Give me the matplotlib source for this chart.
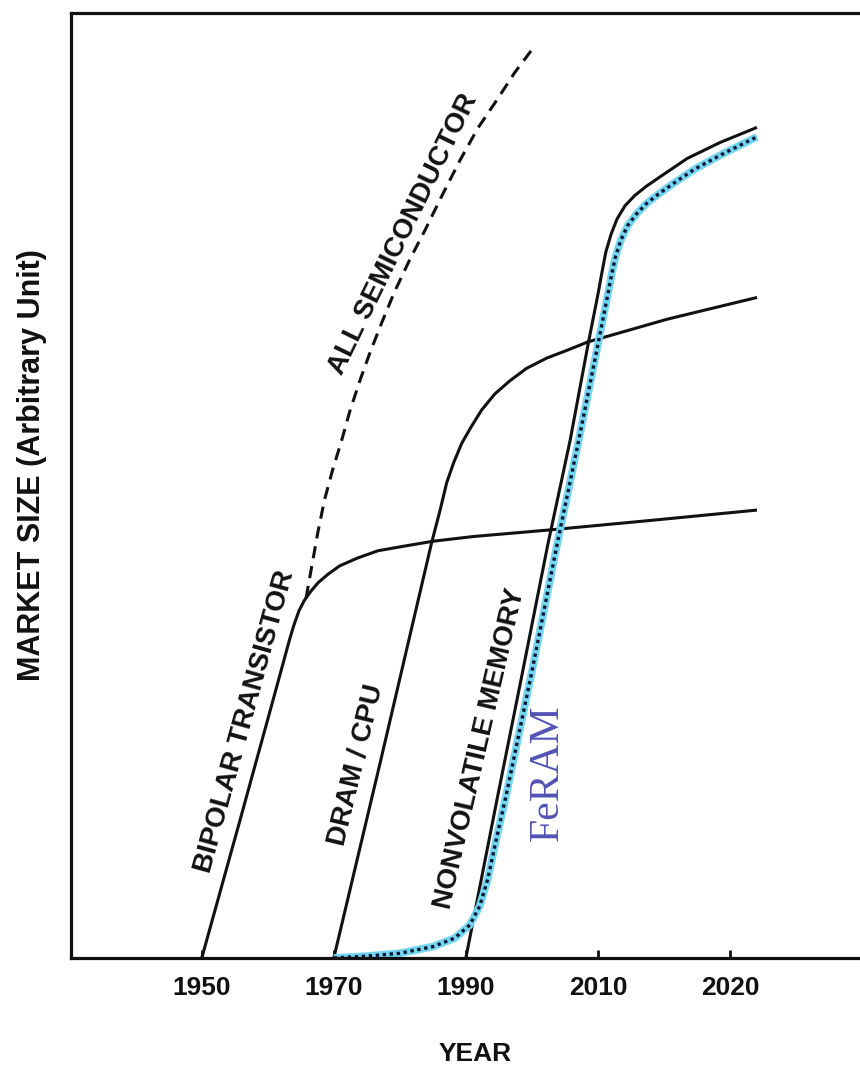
"""Market size vs year for semiconductor product generations (with the FeRAM curve)."""
import matplotlib

matplotlib.use("Agg")

import matplotlib.pyplot as plt

plt.rcParams["font.family"] = ["Liberation Sans", "DejaVu Sans"]

# --- values (year, market size in arbitrary units 0..1) ---
bipolar_year = [1950.0, 1955.8, 1960.8, 1963.3, 1963.9, 1964.7, 1965.5, 1966.4, 1967.6,
                1969.1, 1970.9, 1973.5, 1976.7, 1980.8, 1985.0, 1991.1, 2002.7, 2017.9,
                2034.1]
bipolar_size = [0.000, 0.146, 0.273, 0.337, 0.351, 0.367, 0.378, 0.387, 0.397,
                0.406, 0.415, 0.423, 0.431, 0.436, 0.441, 0.446, 0.453, 0.463,
                0.474]

dram_year = [1970.0, 1977.0, 1984.8, 1986.1, 1987.1, 1988.2, 1989.4, 1990.8, 1992.4,
             1994.4, 1996.7, 1999.2, 2002.3, 2005.3, 2008.5, 2020.5, 2034.1]
dram_size = [0.000, 0.206, 0.439, 0.474, 0.503, 0.525, 0.545, 0.562, 0.580,
             0.597, 0.611, 0.624, 0.635, 0.643, 0.652, 0.676, 0.699]

nvm_year = [1990.0, 1994.7, 1998.6, 2002.4, 2005.8, 2008.5, 2010.0, 2010.6, 2011.2,
            2012.0, 2012.9, 2014.1, 2015.6, 2017.4, 2019.7, 2023.5, 2028.5, 2034.1]
nvm_size = [0.000, 0.167, 0.303, 0.437, 0.548, 0.649, 0.702, 0.725, 0.747,
            0.766, 0.782, 0.796, 0.807, 0.817, 0.828, 0.846, 0.863, 0.879]

feram_year = [1970.0, 1975.0, 1980.0, 1985.0, 1988.3, 1990.6, 1992.1, 1993.3, 1994.5,
              1996.1, 2000.0, 2003.8, 2007.1, 2010.0, 2011.5, 2012.1, 2012.7, 2013.5,
              2014.5, 2015.8, 2017.3, 2019.1, 2021.5, 2024.7, 2029.2, 2034.1]
feram_size = [0.000, 0.002, 0.005, 0.012, 0.021, 0.035, 0.055, 0.083, 0.122,
              0.172, 0.303, 0.437, 0.548, 0.649, 0.702, 0.724, 0.743, 0.760,
              0.775, 0.787, 0.798, 0.808, 0.820, 0.835, 0.852, 0.869]

all_semi_year = [1965.8, 1966.7, 1967.6, 1968.6, 1969.8, 1971.2, 1972.4, 1973.9, 1975.5,
                 1977.3, 1979.2, 1981.5, 1983.8, 1986.4, 1989.1, 1991.8, 1994.7, 1997.4,
                 2000.2]
all_semi_size = [0.381, 0.416, 0.451, 0.485, 0.516, 0.548, 0.578, 0.610, 0.641,
                 0.673, 0.705, 0.739, 0.770, 0.807, 0.844, 0.878, 0.908, 0.937,
                 0.963]

# the scanned axis is not evenly labelled: the last tick sits where 2030 would be
tick_pos = [1950, 1970, 1990, 2010, 2030]
tick_labels = ["1950", "1970", "1990", "2010", "2020"]

INK = "#111111"

fig = plt.figure(figsize=(8.6, 10.68), dpi=100)
ax = fig.add_axes([0.0826, 0.1030, 0.9174, 0.8848])
ax.set_xlim(1930.2, 2049.7)
ax.set_ylim(0.0, 1.0)

lw = 2.2
ax.plot(bipolar_year, bipolar_size, color=INK, lw=lw, solid_capstyle="butt")
ax.plot(dram_year, dram_size, color=INK, lw=lw, solid_capstyle="butt")
ax.plot(nvm_year, nvm_size, color=INK, lw=lw, solid_capstyle="butt")
ax.plot(all_semi_year, all_semi_size, color=INK, lw=lw, linestyle=(0, (4.0, 2.6)))

# FeRAM: light-blue band with a dense black dotted line on top
ax.plot(feram_year, feram_size, color="#74d5f0", lw=5.5, solid_capstyle="butt")
ax.plot(feram_year, feram_size, color="#0b1630", lw=2.4, linestyle=(0, (1.0, 1.1)))

# curve labels written along the curves
label_kw = dict(color=INK, fontsize=20, fontweight="bold", ha="center", va="center",
                rotation_mode="anchor")
ax.text(1956.6, 0.250, "BIPOLAR TRANSISTOR", rotation=74.5, **label_kw)
ax.text(1973.4, 0.204, "DRAM / CPU", rotation=76.5, **label_kw)
ax.text(1992.2, 0.222, "NONVOLATILE MEMORY", rotation=77, **label_kw)
ax.text(1980.6, 0.766, "ALL SEMICONDUCTOR", rotation=64, **label_kw)
ax.text(2002.3, 0.196, "FeRAM", rotation=90, color="#5252b5", fontsize=30,
        family=["Liberation Serif", "DejaVu Serif"], ha="center", va="center")

# axes frame: open on the right, ticks pointing in
for side in ("left", "top", "bottom"):
    ax.spines[side].set_linewidth(2.3)
    ax.spines[side].set_color(INK)
ax.spines["right"].set_visible(False)

ax.set_xticks(tick_pos)
ax.set_xticklabels(tick_labels, fontsize=19, fontweight="bold", color=INK)
ax.tick_params(axis="x", direction="in", length=6, width=2, pad=13, color=INK)
ax.set_yticks([])

ax.set_xlabel("YEAR", fontsize=19, fontweight="bold", color=INK)
ax.xaxis.set_label_coords(0.512, -0.089)
ax.set_ylabel("MARKET SIZE (Arbitrary Unit)", fontsize=22, fontweight="bold", color=INK)
ax.yaxis.set_label_coords(-0.031, 0.522)

fig.savefig("out.png", dpi=100)
plt.close(fig)
